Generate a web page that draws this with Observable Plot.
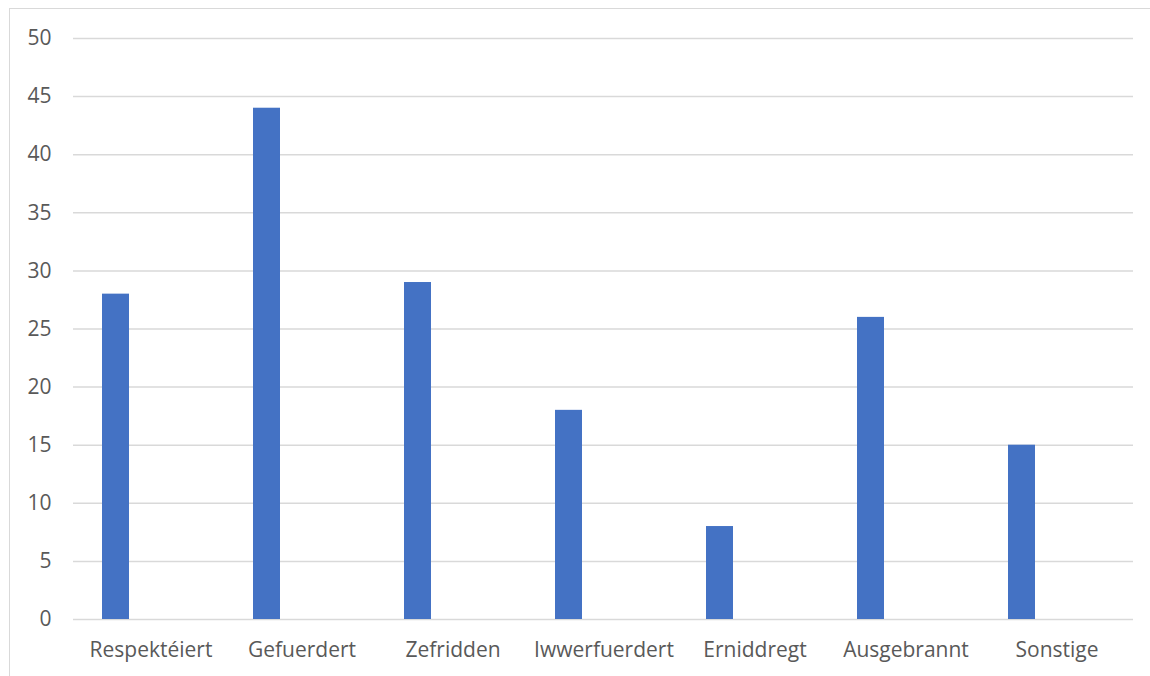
<!DOCTYPE html>
<html>
<head>
<meta charset="utf-8">
<script src="https://cdn.jsdelivr.net/npm/d3@7"></script>
<script src="https://cdn.jsdelivr.net/npm/@observablehq/plot@0.6"></script>
<style>
  html, body { margin: 0; padding: 0; overflow: hidden; background: #fff; width: 1150px; height: 676px; }
  #frame { position: absolute; left: 9px; top: 8px; width: 1200px; height: 700px; border: 1.5px solid #d9d9d9; box-sizing: border-box; }
  #chart { position: absolute; left: 0; top: 0; }
</style>
</head>
<body>
<div id="frame"></div>
<div id="chart"></div>
<script>
const categories = ["Respektéiert", "Gefuerdert", "Zefridden", "Iwwerfuerdert", "Erniddregt", "Ausgebrannt", "Sonstige"];
const values = [28, 44, 29, 18, 8, 26, 15];
const yTicks = [0, 5, 10, 15, 20, 25, 30, 35, 40, 45, 50];

const data = categories.map((c, i) => ({category: c, value: values[i]}));

const chart = Plot.plot({
  width: 1150,
  height: 676,
  marginLeft: 73,
  marginRight: 17,
  marginTop: 38,
  marginBottom: 57,
  style: { fontFamily: "'Open Sans', sans-serif", fontSize: "21px", color: "#595959", background: "transparent" },
  x: { domain: categories, padding: 0, label: null },
  y: { domain: [0, 50], label: null },
  marks: [
    Plot.gridY(yTicks, { stroke: "#d9d9d9", strokeOpacity: 1, strokeWidth: 1.5 }),
    Plot.barY(data, { x: "category", y: "value", fill: "#4472c4", insetLeft: 27, insetRight: 97 }),
    Plot.axisY(yTicks, { tickSize: 0, tickPadding: 22, label: null, fill: "#595959", fontSize: 21 }),
    Plot.axisX({ tickSize: 0, tickPadding: 23, label: null, fill: "#595959", fontSize: 21 })
  ]
});
document.getElementById("chart").appendChild(chart);
</script>
</body>
</html>
